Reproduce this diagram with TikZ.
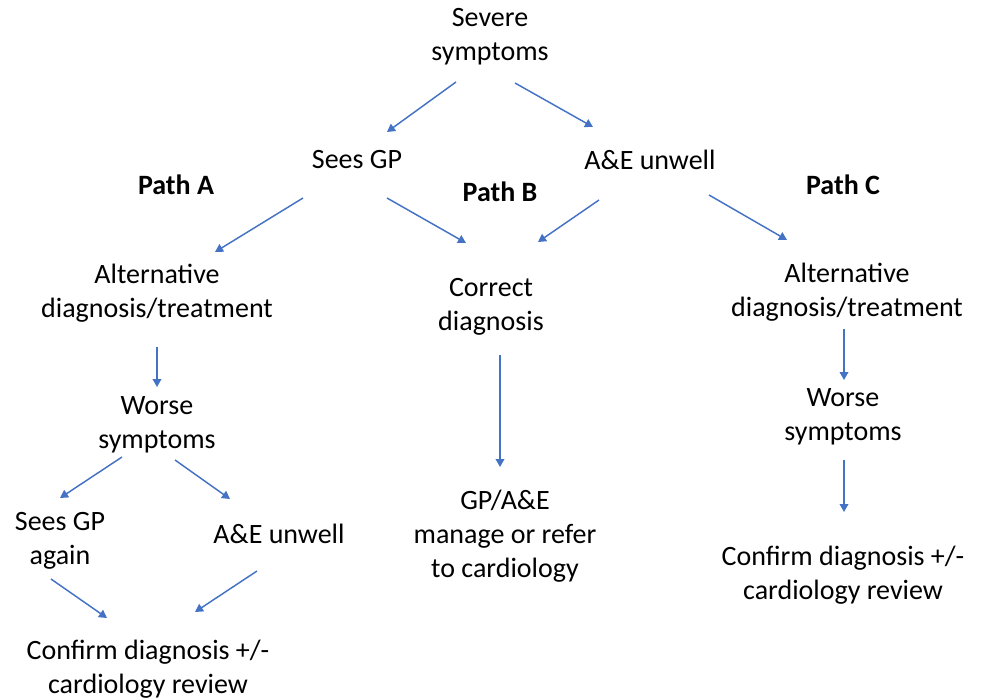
\documentclass[tikz,border=0pt]{standalone}
\usepackage{fontspec}
\setmainfont{Carlito}
\usetikzlibrary{arrows.meta}
\definecolor{arrblue}{HTML}{4472C4}
\tikzset{
  lbl/.style={align=center, inner sep=0pt, font=\fontsize{21}{25.5}\selectfont},
  pathlbl/.style={inner sep=0pt, font=\fontsize{21}{25.5}\selectfont\bfseries},
  arr/.style={draw=arrblue, line width=1.1pt, -{Triangle[length=6pt,width=6.5pt]}, fill=none}
}
\begin{document}
\begin{tikzpicture}[x=0.75pt, y=-0.75pt]
\useasboundingbox[fill=white] (0,0) rectangle (989,699);
\node[lbl] (sev) at (490,37) {Severe\\symptoms};
\node[lbl] (gp) at (357,160) {Sees GP};
\node[lbl] (ae) at (650,160) {A\&E unwell};
\node[pathlbl] (pa) at (176,185) {Path A};
\node[pathlbl] (pb) at (500,192) {Path B};
\node[pathlbl] (pc) at (843,185) {Path C};
\node[lbl] (altL) at (157,293) {Alternative\\diagnosis/treatment};
\node[lbl] (cor) at (491,307) {Correct\\diagnosis};
\node[lbl] (altR) at (847,292) {Alternative\\diagnosis/treatment};
\node[lbl] (worL) at (157,425) {Worse\\symptoms};
\node[lbl] (worR) at (843,417) {Worse\\symptoms};
\node[lbl] (gpa) at (60,541) {Sees GP\\again};
\node[lbl] (aeL) at (279,534) {A\&E unwell};
\node[lbl] (conL) at (148,669) {Confirm diagnosis +/-\\cardiology review};
\node[lbl] (mng) at (505,536) {GP/A\&E\\manage or refer\\to cardiology};
\node[lbl] (conR) at (843,575) {Confirm diagnosis +/-\\cardiology review};

\draw[arr] ([shift={(-34,45)}]sev.center) -- ([shift={(30,-28)}]gp.center);
\draw[arr] ([shift={(25,46)}]sev.center) -- ([shift={(-57,-33)}]ae.center);
\draw[arr] ([shift={(30,38)}]gp.center) -- ([shift={(-25,-64)}]cor.center);
\draw[arr] ([shift={(-51,40)}]ae.center) -- ([shift={(47,-65)}]cor.center);
\draw[arr] ([shift={(-54,38)}]gp.center) -- ([shift={(58,-41)}]altL.center);
\draw[arr] ([shift={(59,35)}]ae.center) -- ([shift={(-60,-52)}]altR.center);
\draw[arr] ([shift={(0,54)}]altL.center) -- ([shift={(0,-38)}]worL.center);
\draw[arr] ([shift={(9,48)}]cor.center) -- ([shift={(-5,-69)}]mng.center);
\draw[arr] ([shift={(-3,37)}]altR.center) -- ([shift={(1,-37)}]worR.center);
\draw[arr] ([shift={(1,43)}]worR.center) -- ([shift={(1,-63)}]conR.center);
\draw[arr] ([shift={(-35,32)}]worL.center) -- ([shift={(0,-43)}]gpa.center);
\draw[arr] ([shift={(18,35)}]worL.center) -- ([shift={(-49,-35)}]aeL.center);
\draw[arr] ([shift={(-9,38)}]gpa.center) -- ([shift={(-41,-51)}]conL.center);
\draw[arr] ([shift={(-22,37)}]aeL.center) -- ([shift={(47,-57)}]conL.center);
\end{tikzpicture}
\end{document}
